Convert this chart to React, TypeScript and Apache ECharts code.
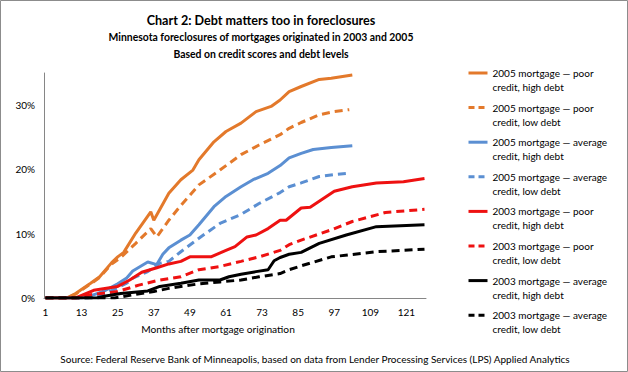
import React, { useEffect, useRef } from 'react';
import * as echarts from 'echarts';

const FONT = 'Lato';

const months: string[] = Array.from({ length: 127 }, (_, i) => String(i + 1));
const yTicks = [0, 10, 20, 30];

const seriesNames = [
  '2005 mortgage — poor\ncredit, high debt',
  '2005 mortgage — poor\ncredit, low debt',
  '2005 mortgage — average\ncredit, high debt',
  '2005 mortgage — average\ncredit, low debt',
  '2003 mortgage — poor\ncredit, high debt',
  '2003 mortgage — poor\ncredit, low debt',
  '2003 mortgage — average\ncredit, high debt',
  '2003 mortgage — average\ncredit, low debt',
];

// [month, % foreclosed]
const poor2005High: [number, number][] = [
  [1, 0], [8, 0], [11, 0.7], [16, 2.3], [19, 3.3], [23, 5.5], [25, 6.4], [27, 7.1], [31, 10.1], [36, 13.4],
  [37, 12.1], [42, 16.3], [46, 18.4], [50, 19.9], [52, 21.5], [57, 24.3], [61, 25.9], [66, 27.2], [71, 29.0],
  [76, 29.8], [79, 30.8], [82, 32.1], [86, 32.9], [92, 34.0], [96, 34.2], [103, 34.7],
];
const poor2005Low: [number, number][] = [
  [1, 0], [8, 0], [11, 0.6], [16, 2.2], [19, 3.2], [23, 5.3], [26, 6.3], [31, 8.5], [36, 10.8], [38, 9.5],
  [42, 12.1], [46, 14.4], [52, 17.6], [59, 19.9], [66, 22.3], [72, 23.8], [79, 25.4], [82, 26.4], [86, 27.3],
  [92, 28.5], [97, 29.0], [102, 29.3],
];
const avg2005High: [number, number][] = [
  [1, 0], [13, 0], [17, 0.5], [21, 1.2], [25, 2.2], [28, 3.1], [30, 4.2], [35, 5.6], [38, 5.2], [40, 6.8],
  [42, 7.8], [46, 9.0], [49, 9.8], [52, 11.4], [57, 14.2], [61, 15.8], [66, 17.3], [70, 18.4], [75, 19.4],
  [79, 20.6], [82, 21.8], [86, 22.5], [90, 23.1], [96, 23.4], [103, 23.7],
];
const avg2005Low: [number, number][] = [
  [1, 0], [15, 0], [21, 0.7], [28, 2.3], [30, 3.1], [35, 4.1], [39, 5.4], [42, 5.7], [46, 7.2], [52, 9.3],
  [59, 11.6], [66, 13.0], [72, 14.7], [79, 16.4], [82, 17.3], [86, 17.9], [92, 18.9], [97, 19.2], [102, 19.4],
];
const poor2003High: [number, number][] = [
  [1, 0], [11, 0], [17, 1.2], [25, 1.8], [29, 2.8], [33, 4.0], [38, 4.7], [42, 5.3], [46, 5.7], [49, 6.4],
  [56, 6.4], [61, 7.4], [64, 8.0], [68, 9.5], [71, 9.8], [75, 10.8], [79, 12.1], [81, 12.1], [86, 14.0],
  [89, 14.1], [97, 16.6], [103, 17.3], [111, 17.9], [120, 18.1], [127, 18.6],
];
const poor2003Low: [number, number][] = [
  [1, 0], [12, 0], [16, 0.5], [25, 1.0], [32, 2.0], [39, 2.8], [46, 3.3], [52, 4.4], [59, 4.9], [66, 5.7],
  [72, 6.4], [79, 7.4], [82, 8.3], [86, 9.0], [96, 10.6], [103, 11.9], [114, 13.3], [127, 13.8],
];
const avg2003High: [number, number][] = [
  [1, 0], [18, 0], [21, 0.3], [26, 0.7], [35, 1.1], [39, 1.8], [46, 2.3], [52, 2.8], [59, 2.8], [62, 3.3],
  [66, 3.7], [71, 4.1], [75, 4.4], [77, 5.8], [79, 6.3], [82, 6.8], [86, 7.1], [92, 8.5], [101, 9.8],
  [111, 11.1], [127, 11.4],
];
const avg2003Low: [number, number][] = [
  [1, 0], [24, 0], [30, 0.5], [37, 1.0], [42, 1.5], [46, 1.8], [52, 2.2], [59, 2.5], [66, 2.8], [72, 3.3],
  [79, 3.8], [82, 4.4], [86, 5.0], [96, 6.4], [111, 7.2], [127, 7.6],
];

const seriesData = [poor2005High, poor2005Low, avg2005High, avg2005Low, poor2003High, poor2003Low, avg2003High, avg2003Low];
const colors = ['#E3792B', '#E3792B', '#5B8FD2', '#5B8FD2', '#EE1111', '#EE1111', '#000000', '#000000'];
const dashed = [false, true, false, true, false, true, false, true];

export default function App() {
  const ref = useRef<HTMLDivElement>(null);
  useEffect(() => {
    document.body.style.margin = '0';
    const chart = echarts.init(ref.current!, null, { renderer: 'svg' });
    const option: any = {
      animation: false,
      backgroundColor: '#fff',
      grid: { left: 44, right: 202, top: 73, bottom: 74 },
      xAxis: {
        type: 'category',
        data: months,
        boundaryGap: true,
        axisLine: { lineStyle: { color: '#868686', width: 1 } },
        axisTick: { show: false },
        axisLabel: { interval: 11, color: '#000', fontFamily: FONT, fontSize: 10, margin: 9 },
      },
      yAxis: {
        type: 'value',
        min: 0,
        max: 35,
        interval: 10,
        splitLine: { show: false },
        axisLine: { show: true, lineStyle: { color: '#868686', width: 1 } },
        axisTick: { show: false },
        axisLabel: {
          color: '#000',
          fontFamily: FONT,
          fontSize: 10,
          margin: 9,
          showMaxLabel: false,
          formatter: (v: number) => (yTicks.includes(v) ? v + '%' : ''),
        },
      },
      legend: seriesNames.map((n, i) => ({
        data: [n],
        orient: 'vertical',
        left: 467,
        top: 52 + i * 34.6,
        padding: 0,
        itemWidth: 19,
        itemHeight: 10,
        itemGap: 0,
        formatter: (name: string) => '\n' + name,
        itemStyle: { opacity: 0 },
        lineStyle: { width: 3, color: colors[i], type: dashed[i] ? [6, 4] : 'solid' },
        textStyle: { fontFamily: FONT, fontSize: 10, lineHeight: 14, color: '#000' },
      })),
      series: seriesNames.map((n, i) => ({
        name: n,
        type: 'line',
        symbol: 'none',
        color: colors[i],
        data: seriesData[i].map(([m, v]) => [String(m), v]),
        lineStyle: { width: 3, color: colors[i], type: dashed[i] ? [8, 5] : 'solid' },
      })),
      graphic: [
        { type: 'rect', shape: { x: 0.5, y: 0.5, width: 627, height: 371 }, style: { fill: 'none', stroke: '#8c8c8c', lineWidth: 1 }, silent: true },
        { type: 'text', x: 261, y: 20, style: { text: 'Chart 2: Debt matters too in foreclosures', font: `bold 12.6px ${FONT}`, fill: '#000', align: 'center', verticalAlign: 'middle' } },
        { type: 'text', x: 261, y: 37, style: { text: 'Minnesota foreclosures of mortgages originated in 2003 and 2005', font: `bold 10.4px ${FONT}`, fill: '#000', align: 'center', verticalAlign: 'middle' } },
        { type: 'text', x: 261, y: 54, style: { text: 'Based on credit scores and debt levels', font: `bold 10.4px ${FONT}`, fill: '#000', align: 'center', verticalAlign: 'middle' } },
        { type: 'text', x: 218, y: 329, style: { text: 'Months after mortgage origination', font: `10.2px ${FONT}`, fill: '#000', align: 'center', verticalAlign: 'middle' } },
        { type: 'text', x: 315, y: 359, style: { text: 'Source: Federal Reserve Bank of Minneapolis, based on data from Lender Processing Services (LPS) Applied Analytics', font: `10px ${FONT}`, fill: '#000', align: 'center', verticalAlign: 'middle' } },
      ],
    };
    chart.setOption(option);
    return () => chart.dispose();
  }, []);
  return <div ref={ref} style={{ width: 628, height: 372 }} />;
}
